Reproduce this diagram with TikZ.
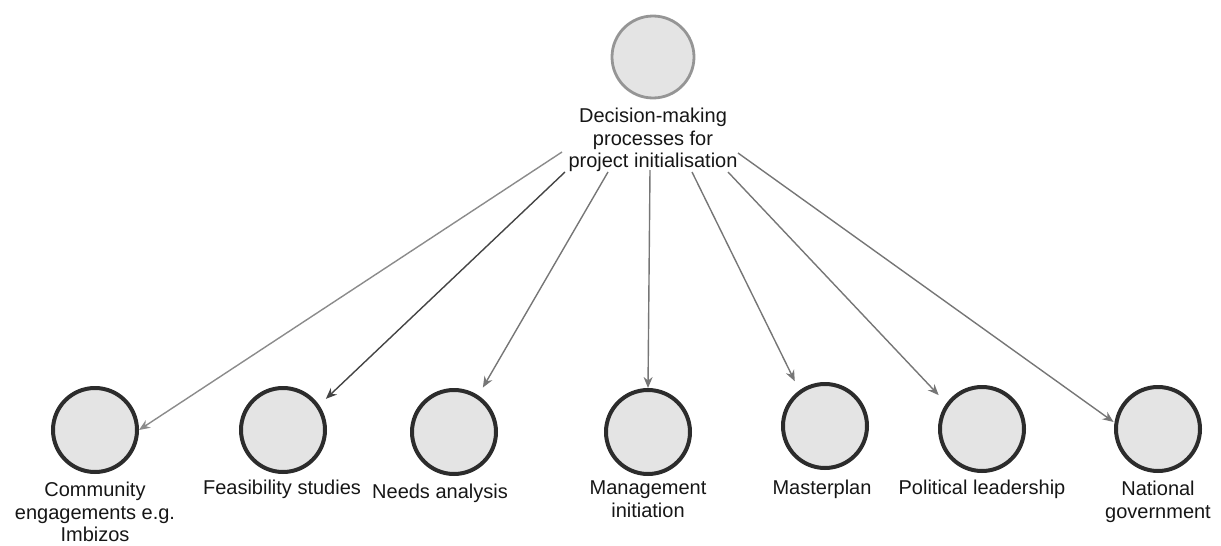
\documentclass[tikz,border=0pt]{standalone}
\usepackage{fontspec}
\setmainfont{Liberation Sans}
\usetikzlibrary{arrows.meta}
\definecolor{nodefill}{HTML}{E4E4E4}
\definecolor{ringdark}{HTML}{2C2C2C}
\definecolor{ringlight}{HTML}{959595}
\definecolor{linegray}{HTML}{767676}
\definecolor{linedark}{HTML}{444444}
\definecolor{txt}{HTML}{161616}
\tikzset{
  leaf/.style={circle, draw=ringdark, line width=4pt, fill=nodefill, minimum size=84pt, inner sep=0pt},
  rootc/.style={circle, draw=ringlight, line width=2.8pt, fill=nodefill, minimum size=82pt, inner sep=0pt},
  lbl/.style={align=center, inner sep=0pt, anchor=north, text=txt, font=\fontsize{20}{22.5}\selectfont},
  link/.style={draw=linegray, line width=1.4pt, -{Stealth[length=11pt, width=9pt]}},
}
\begin{document}
\begin{tikzpicture}[x=1pt, y=-1pt]
\useasboundingbox (0,0) rectangle (1221,546);
% root
\node[rootc] (root) at (653,57) {};
\node[lbl] (rootl) at (653,108) {Decision-making\\processes for\\project initialisation};
% leaves
\node[leaf] (c1) at (95,430) {};
\node[leaf] (c2) at (283,430) {};
\node[leaf] (c3) at (454,432) {};
\node[leaf] (c4) at (648,432) {};
\node[leaf] (c5) at (825,426) {};
\node[leaf] (c6) at (982,429) {};
\node[leaf] (c7) at (1158,429) {};
% labels
\node[lbl] (l1) at (95,482) {Community\\engagements e.g.\\Imbizos};
\node[lbl] (l2) at (282,480) {Feasibility studies};
\node[lbl] (l3) at (440,484) {Needs analysis};
\node[lbl] (l4) at (648,481) {Management\\initiation};
\node[lbl] (l5) at (822,480) {Masterplan};
\node[lbl] (l6) at (982,480) {Political leadership};
\node[lbl] (l7) at (1158,481) {National\\government};
% connector starts
\coordinate (s1) at (562,152);
\coordinate (s2) at (565,172);
\coordinate (s3) at (608,172);
\coordinate (s4) at (650,170);
\coordinate (s5) at (692,172);
\coordinate (s6) at (728,172);
\coordinate (s7) at (738,153);
% connectors
\draw[link, draw=linegray!85] (s1) -- (c1.0);
\draw[link, draw=linedark] (s2) -- ([shift={(36:9pt)}]c2.36);
\draw[link] (s3) -- ([shift={(57:9pt)}]c3.57);
\draw[link] (s4) -- (c4.90);
\draw[link] (s5) -- ([shift={(124:10pt)}]c5.124);
\draw[link] (s6) -- ([shift={(142:11pt)}]c6.142);
\draw[link] (s7) -- ([shift={(171:1pt)}]c7.171);
\end{tikzpicture}
\end{document}
